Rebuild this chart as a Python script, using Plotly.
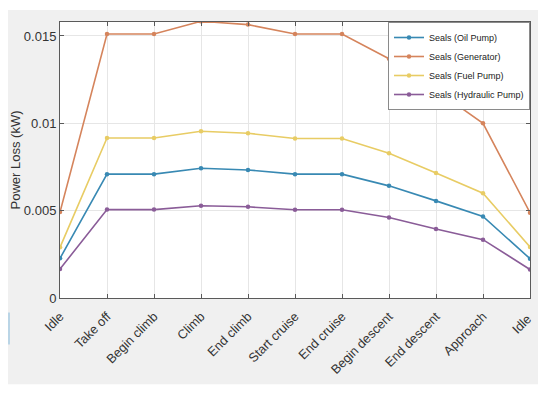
import plotly.graph_objects as go

categories = ["Idle", "Take off", "Begin climb", "Climb", "End climb", "Start cruise",
              "End cruise", "Begin descent", "End descent", "Approach", "Idle "]

oil_pump = [0.00227, 0.00709, 0.00709, 0.00743, 0.00733, 0.00709, 0.00709, 0.00642, 0.00556, 0.00467, 0.00225]
generator = [0.00492, 0.01511, 0.01511, 0.01584, 0.01565, 0.01511, 0.01511, 0.01370, 0.01190, 0.01000, 0.00488]
fuel_pump = [0.00290, 0.00916, 0.00916, 0.00955, 0.00943, 0.00913, 0.00913, 0.00829, 0.00715, 0.00600, 0.00292]
hydraulic_pump = [0.00166, 0.00506, 0.00506, 0.00528, 0.00522, 0.00505, 0.00505, 0.00461, 0.00395, 0.00334, 0.00163]

series_names = ["Seals (Oil Pump)", "Seals (Generator)", "Seals (Fuel Pump)", "Seals (Hydraulic Pump)"]
series_values = [oil_pump, generator, fuel_pump, hydraulic_pump]
series_colors = ["#3889b3", "#d5845c", "#e8cc64", "#8a5c98"]

y_tickvals = [0, 0.005, 0.01, 0.015]
y_ticktext = ["0", "0.005", "0.01", "0.015"]

# the page body adds an 8px white margin on the left and top
OFF = 8
W, H = 550 - OFF, 399 - OFF
L, R, T, B = 60 - OFF, 530 - OFF, 22 - OFF, 298.5 - OFF


def px(x):
    return (x - OFF - L) / (R - L)


def py(y):
    return (B - (y - OFF)) / (B - T)


fig = go.Figure()
for name, vals, col in zip(series_names, series_values, series_colors):
    fig.add_trace(go.Scatter(
        x=list(range(len(categories))), y=vals, name=name, mode="lines+markers",
        line=dict(color=col, width=1.6),
        marker=dict(color=col, size=4.5, symbol="circle"),
    ))

axis_common = dict(
    showline=True, linecolor="#5a5a5a", linewidth=1, mirror="ticks",
    ticks="inside", ticklen=4, tickcolor="#5a5a5a",
    showgrid=True, gridcolor="#e6e6e6", gridwidth=1, zeroline=False,
    automargin=False,
    tickfont=dict(family="Liberation Sans, Arial, sans-serif", size=13, color="#333333"),
)

fig.update_xaxes(
    **axis_common,
    tickmode="array", tickvals=list(range(len(categories))), ticktext=categories,
    range=[0, len(categories) - 1], tickangle=-45,
)
fig.update_xaxes(tickfont=dict(size=12.8), ticklabelstandoff=5)
fig.update_yaxes(
    **axis_common,
    tickmode="array", tickvals=y_tickvals, ticktext=y_ticktext,
    range=[0, 0.0158],
    title=dict(text="Power Loss (kW)", standoff=4,
               font=dict(family="Liberation Sans, Arial, sans-serif", size=13, color="#333333")),
)

shapes = [
    # white outer frame around the grey figure area
    dict(type="rect", xref="paper", yref="paper", x0=px(0), x1=px(560), y0=py(0), y1=py(10),
         fillcolor="white", line=dict(width=0), layer="above"),
    dict(type="rect", xref="paper", yref="paper", x0=px(0), x1=px(560), y0=py(385), y1=py(410),
         fillcolor="white", line=dict(width=0), layer="above"),
    dict(type="rect", xref="paper", yref="paper", x0=px(538), x1=px(560), y0=py(0), y1=py(410),
         fillcolor="white", line=dict(width=0), layer="above"),
    dict(type="line", xref="paper", yref="paper", x0=px(9), x1=px(9), y0=py(313), y1=py(345),
         line=dict(color="#a9cde3", width=1.5)),
]

fig.update_layout(
    width=W, height=H,
    margin=dict(l=L, r=W - R, t=T, b=H - B),
    paper_bgcolor="#f0f0f0", plot_bgcolor="white",
    shapes=shapes,
    showlegend=True,
    legend=dict(
        x=1, y=1, xanchor="right", yanchor="top",
        bgcolor="white", bordercolor="#8a8a8a", borderwidth=1,
        font=dict(family="Liberation Sans, Arial, sans-serif", size=9, color="#222222"),
        tracegroupgap=0, itemwidth=30,
    ),
)

fig.write_html("out.html")
